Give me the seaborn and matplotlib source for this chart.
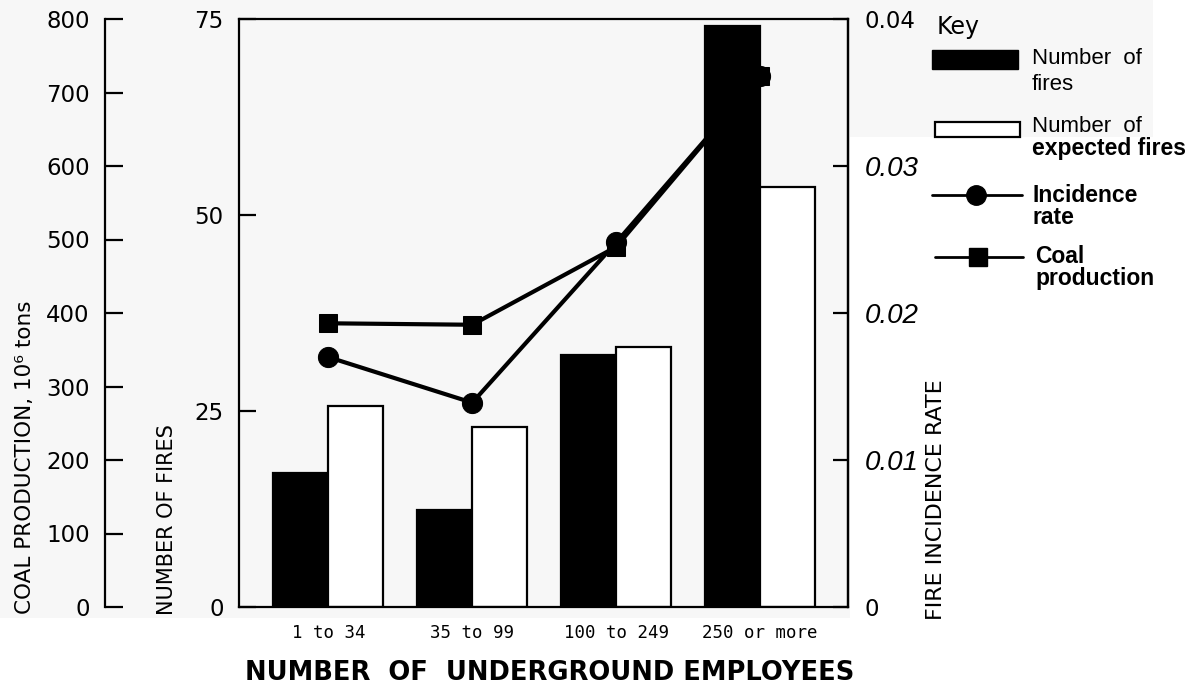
import numpy as np
import pandas as pd
import matplotlib
matplotlib.use("Agg")
from matplotlib import pyplot as plt
from matplotlib.patches import Polygon, Rectangle
from matplotlib.lines import Line2D
import seaborn as sns

# data
employees = ["1 to 34", "35 to 99", "100 to 249", "250 or more"]
fires = [17.1, 12.4, 32.1, 74.1]
expected_fires = [25.6, 23.0, 33.2, 53.6]
incidence_rate = [0.0170, 0.0139, 0.0248, 0.0361]
coal_production = [386, 384, 490, 722]

coal_ticks = [0, 100, 200, 300, 400, 500, 600, 700, 800]
fire_ticks = [0, 25, 50, 75]
rate_ticks = [0, 0.01, 0.02, 0.03, 0.04]
rate_labels = ["0", "0.01", "0.02", "0.03", "0.04"]

sns.set_style("ticks")
plt.rcParams["font.family"] = ["DejaVu Sans"]
plt.rcParams["text.color"] = "black"
plt.rcParams["xtick.color"] = "black"
plt.rcParams["ytick.color"] = "black"
plt.rcParams["axes.labelcolor"] = "black"

W, H = 1204, 687
fig = plt.figure(figsize=(W / 100, H / 100), dpi=100, facecolor="white")


def fx(x):
    return x / W


def fy(y):
    return 1 - y / H


# light grey of the scanned page
grey = "#f7f7f7"
pts = [(0, 0), (1153, 0), (1153, 137), (850, 137), (850, 618), (0, 618)]
fig.patches.append(Polygon([(fx(x), fy(y)) for x, y in pts], closed=True,
                           transform=fig.transFigure, facecolor=grey,
                           edgecolor="none", zorder=-10))

ax = fig.add_axes([fx(239), fy(607), 609 / W, 588 / H])
ax.set_facecolor("none")

# bars
df = pd.DataFrame({
    "group": employees * 2,
    "kind": ["Number of fires"] * 4 + ["Number of expected fires"] * 4,
    "value": fires + expected_fires,
})
sns.barplot(data=df, x="group", y="value", hue="kind",
            palette={"Number of fires": "black", "Number of expected fires": "white"},
            edgecolor="black", linewidth=1.6, width=0.764, gap=0,
            saturation=1, legend=False, ax=ax)

positions = np.arange(len(employees))

# coal production axis (far left)
ax3 = ax.twinx()
sns.lineplot(x=positions, y=coal_production, ax=ax3, color="black",
             marker="s", markersize=13, markeredgecolor="black",
             linewidth=3, zorder=3)
ax3.set_ylim(0, 800)
ax3.set_yticks(coal_ticks)
ax3.yaxis.set_ticks_position("left")
ax3.spines["left"].set_position(("axes", (105 - 239) / 609))
for s in ["right", "top", "bottom"]:
    ax3.spines[s].set_visible(False)
ax3.spines["left"].set_visible(True)
ax3.spines["left"].set_linewidth(1.6)
ax3.spines["left"].set_color("black")
ax3.tick_params(axis="y", direction="in", length=13, width=1.6, pad=11,
                labelsize=16.5, colors="black")

# incidence rate axis (right)
ax2 = ax.twinx()
sns.lineplot(x=positions, y=incidence_rate, ax=ax2, color="black",
             marker="o", markersize=14.5, markeredgecolor="black",
             linewidth=3, zorder=4)
ax2.set_ylim(0, 0.04)
ax2.set_yticks(rate_ticks)
ax2.set_yticklabels(rate_labels)
for s in ["left", "top", "bottom"]:
    ax2.spines[s].set_visible(False)
ax2.spines["right"].set_visible(True)
ax2.spines["right"].set_linewidth(1.6)
ax2.spines["right"].set_color("black")
ax2.tick_params(axis="y", direction="in", length=11, width=1.6, pad=12,
                colors="black")
for lbl in ax2.get_yticklabels():
    if lbl.get_text() in ("0.01", "0.02", "0.03"):
        lbl.set_fontfamily("Liberation Sans")
        lbl.set_fontstyle("italic")
        lbl.set_fontsize(20)
    else:
        lbl.set_fontsize(16.5)

# main axis: number of fires
ax.set_ylim(0, 75)
ax.set_yticks(fire_ticks)
ax.set_xlabel("")
ax.set_ylabel("")
for s in ax.spines.values():
    s.set_visible(True)
    s.set_linewidth(1.6)
    s.set_color("black")
ax.tick_params(axis="y", direction="in", length=12, width=1.6, pad=11,
               labelsize=16.5, colors="black")
ax.tick_params(axis="x", length=0, pad=12, colors="black")
for lbl in ax.get_xticklabels():
    lbl.set_fontfamily("DejaVu Sans Mono")
    lbl.set_fontsize(12.5)

for a in (ax, ax2, ax3):
    a.set_xlim(-0.62, 3.61)
    a.set_xlabel("")
ax2.set_ylabel("")
ax3.set_ylabel("")

# axis titles
fig.text(fx(25), fy(614), "COAL PRODUCTION, 10⁶ tons", rotation=90,
         ha="center", va="bottom", fontsize=15.5)
fig.text(fx(167), fy(615), "NUMBER OF FIRES", rotation=90,
         ha="center", va="bottom", fontsize=15)
fig.text(fx(936), fy(620), "FIRE INCIDENCE RATE", rotation=90,
         ha="center", va="bottom", fontsize=16)
fig.text(fx(550), fy(673), "NUMBER  OF  UNDERGROUND EMPLOYEES",
         ha="center", va="center", fontsize=18.5, fontweight="bold")

# key
fig.text(fx(937), fy(27), "Key", ha="left", va="center", fontsize=17)
fig.patches.append(Rectangle((fx(932), fy(69)), 86 / W, 19 / H,
                             transform=fig.transFigure, facecolor="black",
                             edgecolor="black", lw=1))
fig.patches.append(Rectangle((fx(935), fy(137)), 85 / W, 15 / H,
                             transform=fig.transFigure, facecolor="white",
                             edgecolor="black", lw=1.6))
fig.lines.append(Line2D([fx(932), fx(1022)], [fy(195), fy(195)],
                        transform=fig.transFigure, color="black", lw=2))
fig.lines.append(Line2D([fx(976)], [fy(195)], transform=fig.transFigure,
                        marker="o", markersize=14, color="black"))
fig.lines.append(Line2D([fx(935), fx(1023)], [fy(257), fy(257)],
                        transform=fig.transFigure, color="black", lw=2))
fig.lines.append(Line2D([fx(978)], [fy(257)], transform=fig.transFigure,
                        marker="s", markersize=13, color="black"))

key_font = dict(ha="left", va="center", family="Liberation Sans")
fig.text(fx(1032), fy(58), "Number  of", fontsize=16, **key_font)
fig.text(fx(1032), fy(84), "fires", fontsize=16, **key_font)
fig.text(fx(1032), fy(127), "Number  of", fontsize=16, **key_font)
fig.text(fx(1032), fy(149), "expected fires", fontsize=16.5, weight="bold", **key_font)
fig.text(fx(1033), fy(195), "Incidence", fontsize=16.5, weight="bold", **key_font)
fig.text(fx(1033), fy(217), "rate", fontsize=16.5, weight="bold", **key_font)
fig.text(fx(1035), fy(257), "Coal", fontsize=16.5, weight="bold", **key_font)
fig.text(fx(1035), fy(279), "production", fontsize=16.5, weight="bold", **key_font)

fig.savefig("out.png", dpi=100, facecolor=fig.get_facecolor())
